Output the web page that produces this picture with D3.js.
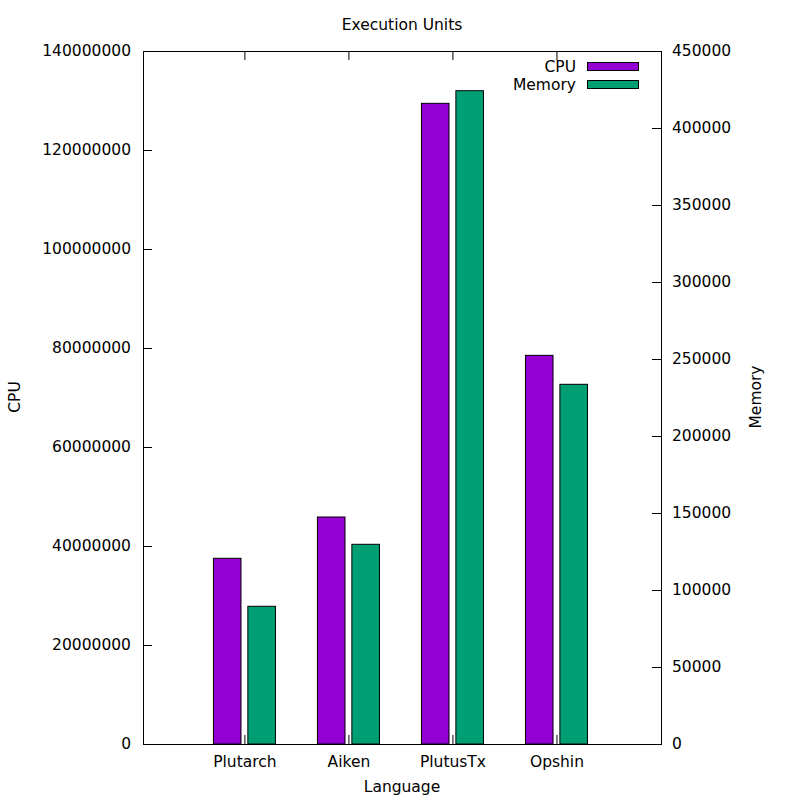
<!DOCTYPE html>
<html>
<head>
<meta charset="utf-8">
<script src="https://cdn.jsdelivr.net/npm/d3@7"></script>
<style>
body{margin:0;background:#fff;}
text{font-family:"DejaVu Sans",sans-serif;font-size:15.5px;fill:#000;}
</style>
</head>
<body>
<svg id="c" width="800" height="800"></svg>
<script>
const categories = ["Plutarch", "Aiken", "PlutusTx", "Opshin"];
const cpuValues = [37520000, 45860000, 129430000, 78520000];
const memoryValues = [89420, 129680, 424220, 233570];
const cpuTicks = [0, 20000000, 40000000, 60000000, 80000000, 100000000, 120000000, 140000000];
const memTicks = [0, 50000, 100000, 150000, 200000, 250000, 300000, 350000, 400000, 450000];
const seriesNames = ["CPU", "Memory"];
const seriesColors = ["#9400d3", "#009e73"];

const svg = d3.select("#c");
const L = 143, R = 661, T = 51, B = 744;
const FS = "15.5px";

const x = d3.scaleLinear().domain([-0.975, 4.005]).range([L, R]);
const yL = d3.scaleLinear().domain([0, 140000000]).range([B, T]);
const yR = d3.scaleLinear().domain([0, 450000]).range([B, T]);

const barW = 0.265, gap = 0.033;

// bars
const g = svg.append("g");
categories.forEach((c, i) => {
  g.append("rect")
    .attr("x", x(i - gap - barW)).attr("width", x(barW) - x(0))
    .attr("y", yL(cpuValues[i])).attr("height", yL(0) - yL(cpuValues[i]))
    .attr("fill", seriesColors[0]).attr("stroke", "#000").attr("stroke-width", 1);
  g.append("rect")
    .attr("x", x(i + gap)).attr("width", x(barW) - x(0))
    .attr("y", yR(memoryValues[i])).attr("height", yR(0) - yR(memoryValues[i]))
    .attr("fill", seriesColors[1]).attr("stroke", "#000").attr("stroke-width", 1);
});

// axes
const axL = d3.axisLeft(yL).tickValues(cpuTicks).tickSizeInner(-9).tickSizeOuter(0).tickPadding(12).tickFormat(d3.format("d"));
const axR = d3.axisRight(yR).tickValues(memTicks).tickSizeInner(-9).tickSizeOuter(0).tickPadding(11).tickFormat(d3.format("d"));
const axB = d3.axisBottom(x).tickValues(d3.range(categories.length)).tickSizeInner(-9).tickSizeOuter(0).tickPadding(12).tickFormat(i => categories[i]);
const axT = d3.axisTop(x).tickValues(d3.range(categories.length)).tickSizeInner(-9).tickSizeOuter(0).tickFormat("");

function style(sel){
  sel.select(".domain").remove();
  sel.selectAll("line").attr("stroke", "#000");
  sel.selectAll("text").style("font-family", "DejaVu Sans, sans-serif").style("font-size", FS).attr("fill", "#000");
}
svg.append("g").attr("transform", `translate(${L},0)`).call(axL).call(style);
svg.append("g").attr("transform", `translate(${R},0)`).call(axR).call(style);
svg.append("g").attr("transform", `translate(0,${B})`).call(axB).call(style);
svg.append("g").attr("transform", `translate(0,${T})`).call(axT).call(style);

// border
svg.append("rect").attr("x", L + 0.5).attr("y", T + 0.5).attr("width", R - L).attr("height", B - T)
  .attr("fill", "none").attr("stroke", "#000").attr("stroke-width", 1);

// titles
svg.append("text").attr("x", 402).attr("y", 30).attr("text-anchor", "middle").text("Execution Units");
svg.append("text").attr("x", 402).attr("y", 792).attr("text-anchor", "middle").text("Language");
svg.append("text").attr("transform", "translate(20,397) rotate(-90)").attr("text-anchor", "middle").text("CPU");
svg.append("text").attr("transform", "translate(761,397) rotate(-90)").attr("text-anchor", "middle").text("Memory");

// legend
seriesNames.forEach((n, i) => {
  const yy = 67 + i * 18;
  svg.append("text").attr("x", 576).attr("y", yy + 5).attr("text-anchor", "end").text(n);
  svg.append("rect").attr("x", 587.5).attr("y", yy - 4.5).attr("width", 51).attr("height", 8)
    .attr("fill", seriesColors[i]).attr("stroke", "#000").attr("stroke-width", 1);
});
</script>
</body>
</html>
